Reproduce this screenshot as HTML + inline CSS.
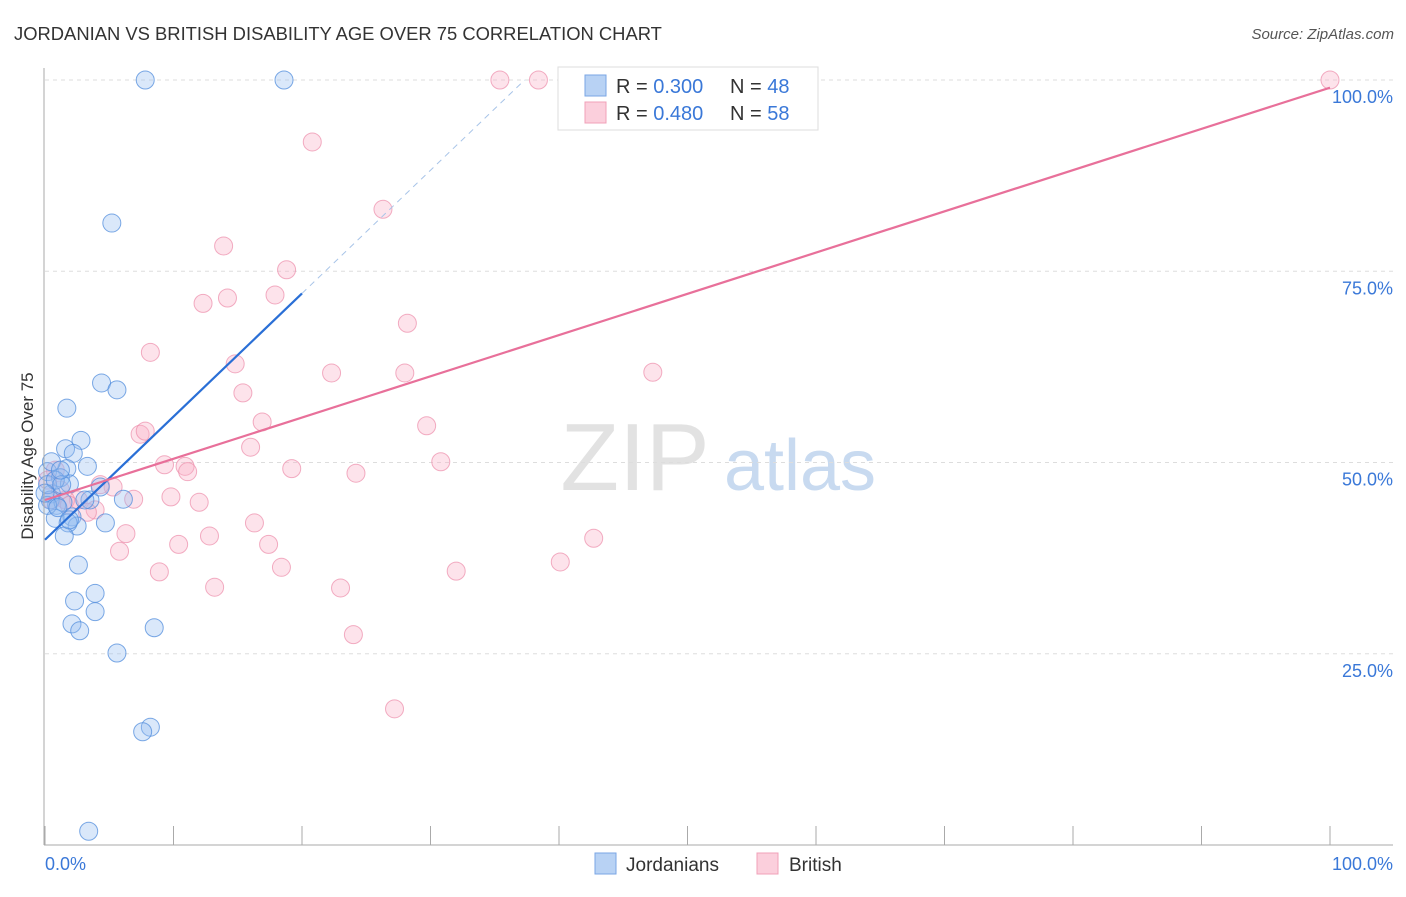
<!DOCTYPE html>
<html><head><meta charset="utf-8"><style>
body{margin:0;background:#fff;font-family:"Liberation Sans",sans-serif}
svg text{font-family:"Liberation Sans",sans-serif}
</style></head><body>
<svg id="c" width="1406" height="892" xmlns="http://www.w3.org/2000/svg">
<text x="14" y="40" font-size="18.4" fill="#333">JORDANIAN VS BRITISH DISABILITY AGE OVER 75 CORRELATION CHART</text>
<text x="1394" y="39" font-size="15" fill="#555" text-anchor="end" font-style="italic">Source: ZipAtlas.com</text>
<text x="635" y="490" font-size="96" fill="#e2e2e2" font-family="Liberation Serif" text-anchor="middle">ZIP</text>
<text x="800" y="490" font-size="72" fill="#c8daf0" text-anchor="middle">atlas</text>
<text transform="translate(33,456) rotate(-90)" font-size="17" fill="#333" text-anchor="middle">Disability Age Over 75</text>
<g id="grid"></g><g id="pts"></g><g id="lines"></g>
<line x1="44" y1="68" x2="44" y2="845" stroke="#aaa"/>
<line x1="44" y1="845" x2="1393" y2="845" stroke="#aaa"/>
<g id="ticks"></g>
<text x="45" y="870" font-size="18" fill="#3a78d8">0.0%</text>
<text x="1393" y="870" font-size="18" fill="#3a78d8" text-anchor="end">100.0%</text>
<g>
<rect x="558" y="67" width="260" height="63" fill="#fff" stroke="#ddd"/>
<rect x="585" y="75" width="21" height="21" fill="#b8d2f4" stroke="#7aa6e4"/>
<rect x="585" y="102" width="21" height="21" fill="#fbcfdc" stroke="#f0a0b8"/>
<text x="616" y="93" font-size="20" fill="#333">R = <tspan fill="#3a78d8">0.300</tspan></text>
<text x="730" y="93" font-size="20" fill="#333">N = <tspan fill="#3a78d8">48</tspan></text>
<text x="616" y="120" font-size="20" fill="#333">R = <tspan fill="#3a78d8">0.480</tspan></text>
<text x="730" y="120" font-size="20" fill="#333">N = <tspan fill="#3a78d8">58</tspan></text>
</g>
<g>
<rect x="595" y="853" width="21" height="21" fill="#b8d2f4" stroke="#7aa6e4"/>
<text x="626" y="871" font-size="19" fill="#333">Jordanians</text>
<rect x="757" y="853" width="21" height="21" fill="#fbcfdc" stroke="#f0a0b8"/>
<text x="789" y="871" font-size="19" fill="#333">British</text>
</g>
</svg>
<script>
const yTicks=[25,50,75,100];
const yTickLabels=["25.0%","50.0%","75.0%","100.0%"];
const xTicks=[0,10,20,30,40,50,60,70,80,90,100];
const blueX=[7.8,18.6,5.2,4.4,5.6,1.7,1.6,2.8,2.2,1.7,3.3,0.2,1.2,1.9,0.5,0.9,0.4,1.4,3.5,4.3,6.1,0.8,2.1,2.5,1.8,1.5,4.7,2.6,2.3,3.9,3.9,2.1,2.7,8.5,5.6,8.2,7.6,3.4,0.2,0.8,1.3,0.2,1.0,3.1,0,0.5,1.2,1.9];
const blueY=[100,100,81.3,60.4,59.5,57.1,51.8,52.9,51.2,49.2,49.5,48.8,48.0,47.2,45.9,44.4,45.1,44.8,45.1,46.8,45.2,42.7,42.9,41.7,42.1,40.4,42.1,36.6,31.9,32.9,30.5,28.9,28.0,28.4,25.1,15.4,14.8,1.8,47.1,47.7,47.1,44.4,44.1,45.1,46.0,50.1,49.0,42.5];
const pinkX=[35.4,38.4,52.1,100,20.8,26.3,13.9,18.8,12.3,14.2,17.9,28.2,8.2,14.8,22.3,28.0,47.3,15.4,16.9,29.7,7.4,7.8,16.0,9.3,10.9,11.1,19.2,24.2,30.8,9.8,12.0,6.9,5.3,4.3,3.9,2.6,1.6,0.8,16.3,12.8,6.3,17.4,10.4,5.8,42.7,18.4,8.9,40.1,32.0,13.2,23.0,24.0,27.2,0.2,1.2,3.3,1.9,0.5];
const pinkY=[100,100,100,100,91.9,83.1,78.3,75.2,70.8,71.5,71.9,68.2,64.4,62.9,61.7,61.7,61.8,59.1,55.3,54.8,53.7,54.1,52.0,49.7,49.5,48.8,49.2,48.6,50.1,45.5,44.8,45.2,46.8,47.1,43.8,45.1,45.1,49.0,42.1,40.4,40.7,39.3,39.3,38.4,40.1,36.3,35.7,37.0,35.8,33.7,33.6,27.5,17.8,47.7,46.4,43.5,44.4,45.1];
const blueFit=[39.9,1.61];
const pinkFit=[45.1,0.539];
const NS="http://www.w3.org/2000/svg";
const X=v=>45+v*12.85, Y=v=>845-v*7.65;
function mk(p,t,a){const e=document.createElementNS(NS,t);for(const k in a)e.setAttribute(k,a[k]);p.appendChild(e);return e;}
const grid=document.getElementById('grid'),ticks=document.getElementById('ticks');
yTicks.forEach((t,i)=>{
 const l=mk(grid,'line',{x1:45,x2:1393,y1:Y(t),y2:Y(t),stroke:'#ddd','stroke-dasharray':'4,4'});
 
 
 const tx=mk(ticks,'text',{x:1393,y:Y(t)+23,'font-size':18,fill:'#3a78d8','text-anchor':'end'});
 tx.textContent=yTickLabels[i];
 
 
});
xTicks.forEach(t=>{
 const l=mk(ticks,'line',{x1:X(t),x2:X(t),y1:826,y2:845,stroke:'#aaa'});
 
 
});
const pts=document.getElementById('pts');
pinkX.forEach((x,i)=>{
 const c=mk(pts,'circle',{cx:X(x),cy:Y(pinkY[i]),r:9,fill:'rgba(248,175,198,0.35)',stroke:'rgba(236,140,170,0.7)'});
 
 
});
blueX.forEach((x,i)=>{
 const c=mk(pts,'circle',{cx:X(x),cy:Y(blueY[i]),r:9,fill:'rgba(150,190,240,0.35)',stroke:'rgba(80,140,220,0.75)'});
 
 
});
const lines=document.getElementById('lines');
let l=mk(lines,'line',{x1:X(0),y1:Y(blueFit[0]),x2:X(20),y2:Y(blueFit[0]+20*blueFit[1]),stroke:'#2a6fd6','stroke-width':2.2});


const xe=(100-blueFit[0])/blueFit[1];
l=mk(lines,'line',{x1:X(20),y1:Y(blueFit[0]+20*blueFit[1]),x2:X(xe),y2:Y(100),stroke:'#a8c4e8','stroke-width':1,'stroke-dasharray':'6,5'});


l=mk(lines,'line',{x1:X(0),y1:Y(pinkFit[0]),x2:X(100),y2:Y(pinkFit[0]+100*pinkFit[1]),stroke:'#e8709a','stroke-width':2.2});


</script>
</body></html>
